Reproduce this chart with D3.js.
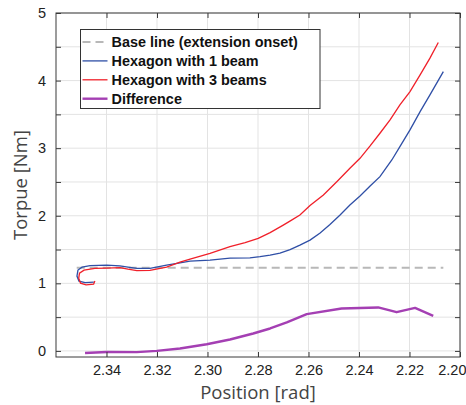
<!DOCTYPE html>
<html>
<head>
<meta charset="utf-8">
<script src="https://cdn.jsdelivr.net/npm/d3@7"></script>
<style>
  body { margin: 0; background: #fff; }
  svg { display: block; }
</style>
</head>
<body>
<div id="chart"></div>
<script>
// Hexagon with 1 beam
const beam1Pos = [2.3450, 2.3485, 2.3509, 2.3517, 2.3513, 2.3497, 2.3465, 2.3399, 2.3347, 2.3315, 2.3280, 2.3228,
  2.3162, 2.3109, 2.3069, 2.2990, 2.2911, 2.2832, 2.2792, 2.2752, 2.2713, 2.2673, 2.2634, 2.2594, 2.2554,
  2.2515, 2.2475, 2.2436, 2.2396, 2.2356, 2.2317, 2.2270, 2.2238, 2.2198, 2.2158, 2.2119, 2.2066];
const beam1Torque = [1.018, 1.010, 1.033, 1.107, 1.196, 1.240, 1.262, 1.270, 1.259, 1.240, 1.221, 1.221,
  1.270, 1.304, 1.329, 1.344, 1.373, 1.378, 1.396, 1.418, 1.447, 1.499, 1.566, 1.640, 1.744,
  1.870, 2.010, 2.159, 2.292, 2.440, 2.578, 2.825, 3.022, 3.270, 3.541, 3.788, 4.133];

// Hexagon with 3 beams
const beam3Pos = [2.3446, 2.3451, 2.3481, 2.3503, 2.3510, 2.3507, 2.3489, 2.3446, 2.3399, 2.3347, 2.3315, 2.3280,
  2.3228, 2.3162, 2.3109, 2.3069, 2.2990, 2.2911, 2.2851, 2.2799, 2.2752, 2.2700, 2.2667, 2.2634, 2.2594,
  2.2541, 2.2488, 2.2436, 2.2396, 2.2356, 2.2317, 2.2277, 2.2238, 2.2198, 2.2158, 2.2119, 2.2086];
const beam3Torque = [1.033, 0.988, 0.978, 1.003, 1.077, 1.151, 1.196, 1.221, 1.225, 1.233, 1.210, 1.188,
  1.191, 1.240, 1.314, 1.359, 1.443, 1.544, 1.603, 1.665, 1.751, 1.862, 1.936, 2.010, 2.151,
  2.307, 2.504, 2.702, 2.850, 3.033, 3.221, 3.418, 3.640, 3.837, 4.084, 4.332, 4.563];

// Difference between the two
const diffPos = [2.3485, 2.3399, 2.3280, 2.3201, 2.3109, 2.3003, 2.2911, 2.2819, 2.2752, 2.2686, 2.2607,
  2.2469, 2.2324, 2.2251, 2.2178, 2.2106];
const diffTorque = [-0.030, -0.015, -0.018, 0.000, 0.036, 0.099, 0.169, 0.258, 0.332, 0.421, 0.544,
  0.628, 0.643, 0.573, 0.637, 0.519];

// Base line (extension onset)
const basePos = [2.3518, 2.2066];
const baseTorque = [1.23, 1.23];

const xTicks = [2.34, 2.32, 2.30, 2.28, 2.26, 2.24, 2.22, 2.20];
const yTicks = [0, 0.5, 1, 1.5, 2, 2.5, 3, 3.5, 4, 4.5, 5];
const yLabels = [0, 1, 2, 3, 4, 5];

const legendNames = ["Base line (extension onset)", "Hexagon with 1 beam", "Hexagon with 3 beams", "Difference"];

const margin = { top: 13, right: 6, bottom: 48, left: 56 };
const width = 466 - margin.left - margin.right;
const height = 405 - margin.top - margin.bottom;

const svg = d3.select("#chart")
  .append("svg")
  .attr("width", 466)
  .attr("height", 405)
  .append("g")
  .attr("transform", `translate(${margin.left},${margin.top})`);

// reversed x axis
const x = d3.scaleLinear().domain([2.36, 2.20]).range([0, width]);
const y = d3.scaleLinear().domain([-0.09, 5]).range([height, 0]);

// grid
svg.append("g")
  .selectAll("line")
  .data(xTicks)
  .join("line")
  .attr("x1", d => x(d)).attr("x2", d => x(d))
  .attr("y1", 0).attr("y2", height)
  .attr("stroke", "#e3e3e3").attr("stroke-width", 1);

svg.append("g")
  .selectAll("line")
  .data(yTicks)
  .join("line")
  .attr("x1", 0).attr("x2", width)
  .attr("y1", d => y(d)).attr("y2", d => y(d))
  .attr("stroke", "#e3e3e3").attr("stroke-width", 1);

const line = d3.line().x(d => x(d[0])).y(d => y(d[1]));

// baseline
svg.append("path")
  .datum(d3.zip(basePos, baseTorque))
  .attr("d", line)
  .attr("fill", "none")
  .attr("stroke", "#b8b8b8")
  .attr("stroke-width", 2)
  .attr("stroke-dasharray", "8,5");

svg.append("path")
  .datum(d3.zip(beam1Pos, beam1Torque))
  .attr("d", line)
  .attr("fill", "none")
  .attr("stroke", "#2f4fa6")
  .attr("stroke-width", 1.3);

svg.append("path")
  .datum(d3.zip(beam3Pos, beam3Torque))
  .attr("d", line)
  .attr("fill", "none")
  .attr("stroke", "#f0202a")
  .attr("stroke-width", 1.3);

svg.append("path")
  .datum(d3.zip(diffPos, diffTorque))
  .attr("d", line)
  .attr("fill", "none")
  .attr("stroke", "#a43fb3")
  .attr("stroke-width", 2.4)
  .attr("stroke-linejoin", "round");

// axes (ticks pointing inwards, box on all sides)
const axisColor = "#3a3a3a";
function styleAxis(g) {
  g.select(".domain").remove();
  g.selectAll(".tick line").attr("stroke", axisColor);
  g.selectAll(".tick text")
    .attr("fill", "#222")
    .style("font-family", "'Liberation Sans', Arial, sans-serif")
    .style("font-size", "14.5px");
}

const xAxis = svg.append("g")
  .attr("transform", `translate(0,${height})`)
  .call(d3.axisBottom(x).tickValues(xTicks).tickFormat(d3.format(".2f")).tickSizeInner(-5).tickPadding(8))
  .call(styleAxis);

// last label pulled in so it stays inside the figure
xAxis.selectAll(".tick text")
  .filter(d => d === 2.20)
  .attr("text-anchor", "end")
  .attr("dx", 6);

svg.append("g")
  .call(d3.axisTop(x).tickValues(xTicks).tickFormat("").tickSizeInner(-5))
  .call(styleAxis);

svg.append("g")
  .call(d3.axisLeft(y).tickValues(yTicks).tickFormat(d => yLabels.includes(d) ? d : "").tickSizeInner(-5).tickPadding(10))
  .call(styleAxis);

svg.append("g")
  .attr("transform", `translate(${width},0)`)
  .call(d3.axisRight(y).tickValues(yTicks).tickFormat("").tickSizeInner(-5))
  .call(styleAxis);

svg.append("rect")
  .attr("width", width).attr("height", height)
  .attr("fill", "none")
  .attr("stroke", axisColor)
  .attr("stroke-width", 1);

// axis labels
svg.append("text")
  .attr("x", width / 2)
  .attr("y", height + 42)
  .attr("text-anchor", "middle")
  .attr("fill", "#444")
  .style("font-family", "'Open Sans', sans-serif")
  .style("font-size", "18.5px")
  .text("Position [rad]");

svg.append("text")
  .attr("transform", `translate(${-margin.left + 27},${height / 2}) rotate(-90)`)
  .attr("text-anchor", "middle")
  .attr("fill", "#444")
  .style("font-family", "'Open Sans', sans-serif")
  .style("font-size", "18.5px")
  .text("Torpue [Nm]");

// legend
const legend = svg.append("g").attr("transform", "translate(24.5,16.5)");
legend.append("rect")
  .attr("width", 239.5).attr("height", 79)
  .attr("fill", "#fff")
  .attr("stroke", "#333")
  .attr("stroke-width", 1);

const legendStyles = [
  { color: "#b8b8b8", w: 2, dash: "8,5" },
  { color: "#2f4fa6", w: 1.3, dash: null },
  { color: "#f0202a", w: 1.3, dash: null },
  { color: "#a43fb3", w: 2.4, dash: null }
];

const rows = legend.selectAll(".row")
  .data(legendNames)
  .join("g")
  .attr("class", "row")
  .attr("transform", (d, i) => `translate(0,${12.5 + i * 18.9})`);

rows.append("line")
  .attr("x1", 2).attr("x2", 27)
  .attr("stroke", (d, i) => legendStyles[i].color)
  .attr("stroke-width", (d, i) => legendStyles[i].w)
  .attr("stroke-dasharray", (d, i) => legendStyles[i].dash);

rows.append("text")
  .attr("x", 31)
  .attr("dy", "0.36em")
  .attr("fill", "#111")
  .style("font-family", "'Liberation Sans', Arial, sans-serif")
  .style("font-weight", "bold")
  .style("font-size", "14.4px")
  .text(d => d);
</script>
</body>
</html>
